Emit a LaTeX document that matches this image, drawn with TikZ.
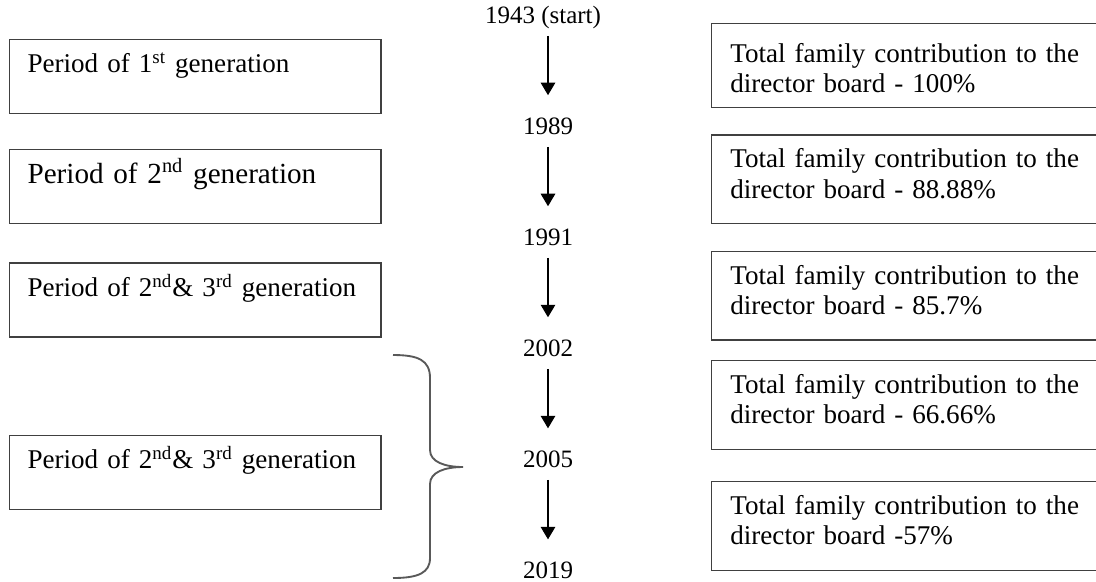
\documentclass[tikz,border=0pt]{standalone}
\usepackage{fontspec}
\setmainfont{Liberation Serif}
\usetikzlibrary{arrows.meta,positioning}
\tikzset{
        periodbox/.style = {draw=black!75, line width=0.6pt, rectangle,
            inner xsep=8.6pt, inner ysep=0pt,
            text width=161pt, align=left,
            text height=16pt, text depth=19.5pt,
            font=\fontsize{13}{15}\selectfont},
        sharebox/.style = {draw=black!75, line width=0.6pt, rectangle,
            inner xsep=9pt, inner ysep=0pt,
            text width=174pt, align=left,
            text height=15.8pt, text depth=26.9pt,
            font=\fontsize{13}{14.5}\selectfont},
        year/.style = {inner sep=0pt, text height=8pt, text depth=0pt,
            font=\fontsize{12}{14}\selectfont},
        arrow/.style = {draw, line width=0.5pt, -{Triangle[width=7pt,length=6pt]},
            shorten <=5.8pt, shorten >=10.6pt},
        bracket/.style = {draw=black!65, line width=0.9pt},
    }

\begin{document}
\begin{tikzpicture}[x=0.48pt,y=-0.48pt]
    \useasboundingbox (0,0) rectangle (1096,581);
    \clip (0,0) rectangle (1096,581);

    % generations
    \node[periodbox, anchor=north west] (gen1) at (9,39)
        {Period of 1\textsuperscript{st} generation};
    \node[periodbox, below=16.8pt of gen1, font=\fontsize{14}{16}\selectfont] (gen2)
        {Period of 2\textsuperscript{nd} generation};
    \node[periodbox, below=18.2pt of gen2] (gen3)
        {Period of 2\textsuperscript{nd}\& 3\textsuperscript{rd} generation};
    \node[periodbox, below=46.6pt of gen3] (gen4)
        {Period of 2\textsuperscript{nd}\& 3\textsuperscript{rd} generation};

    % years
    \node[year] (y1943) at (543,15) {1943 (start)};
    \node[year] (y1989) at (548,126) {1989};
    \node[year, below=44.9pt of y1989] (y1991) {1991};
    \node[year, below=44.9pt of y1991] (y2002) {2002};
    \node[year, below=44.9pt of y2002] (y2005) {2005};
    \node[year, below=44.9pt of y2005] (y2019) {2019};

    \draw[arrow] (y1989 |- y1943.south) -- (y1989);
    \foreach \a/\b in {y1989/y1991, y1991/y2002, y2002/y2005, y2005/y2019}
        \draw[arrow] (\a) -- (\b);

    % family share
    \node[sharebox, anchor=north west, text height=18.7pt, text depth=21.6pt] (share1) at (711,23)
        {Total family contribution to the\\ director board - 100\%};
    \node[sharebox, below=12.5pt of share1] (share2)
        {Total family contribution to the\\ director board - 88.88\%};
    \node[sharebox, below=12.5pt of share2] (share3)
        {Total family contribution to the\\ director board - 85.7\%};
    \node[sharebox, below=9.1pt of share3] (share4)
        {Total family contribution to the\\ director board - 66.66\%};
    \node[sharebox, below=14.9pt of share4] (share5)
        {Total family contribution to the\\ director board -57\%};

    % brace over 2002--2019
    \coordinate (btop) at (393,355);
    \coordinate (bbot) at (393,578);
    \draw[bracket] (btop) .. controls (418,355) and (430,360) .. (430,378)
        -- (430,450) .. controls (430,462) and (445,467) .. (463,467)
        .. controls (445,467) and (430,472) .. (430,484)
        -- (430,558) .. controls (430,573) and (418,578) .. (bbot);
\end{tikzpicture}
\end{document}
